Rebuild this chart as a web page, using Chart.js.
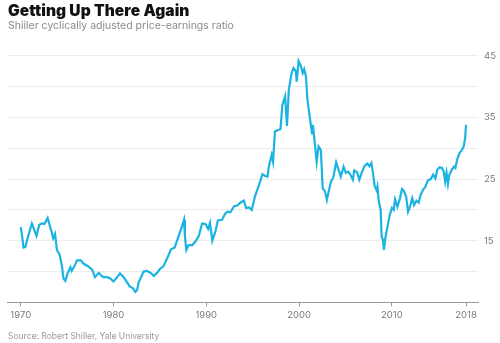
<!DOCTYPE html>
<html>
<head>
<meta charset="utf-8">
<script src="https://cdn.jsdelivr.net/npm/chart.js@4"></script>
<style>
  html, body { margin: 0; padding: 0; background: #fff; }
  #wrap { position: relative; width: 500px; height: 343px; overflow: hidden; }
  #c { position: absolute; left: 0; top: 0; }
  .t { position: absolute; left: 8px; white-space: nowrap; font-family: Inter, "Noto Sans", sans-serif; }
  #title { top: 1px; font-size: 15.5px; font-weight: 900; color: #111; letter-spacing: 0.1px; }
  #sub { top: 19px; font-size: 10.5px; color: #8a8a8a; }
  #src { top: 331px; font-size: 8.5px; color: #9a9a9a; }
</style>
</head>
<body>
<div id="wrap">
  <canvas id="c" width="500" height="343"></canvas>
  <div class="t" id="title">Getting Up There Again</div>
  <div class="t" id="sub">Shiiler cyclically adjusted price-earnings ratio</div>
  <div class="t" id="src">Source: Robert Shiller, Yale University</div>
</div>
<script>
const years = [1970.0,1970.1,1970.3,1970.5,1970.7,1971.2,1971.4,1971.7,1972.0,1972.3,1972.55,1972.9,1973.05,1973.35,1973.5,1973.7,1973.9,1974.2,1974.45,1974.6,1974.8,1975.05,1975.35,1975.5,1975.9,1976.05,1976.5,1976.75,1977.2,1977.7,1978.0,1978.4,1978.65,1978.9,1979.3,1979.65,1980.0,1980.3,1980.7,1981.1,1981.45,1981.75,1982.1,1982.35,1982.55,1982.7,1983.25,1983.6,1984.0,1984.35,1984.7,1985.05,1985.4,1985.8,1986.2,1986.6,1986.85,1987.15,1987.4,1987.6,1987.7,1987.85,1988.1,1988.5,1988.85,1989.2,1989.55,1989.9,1990.2,1990.4,1990.65,1991.0,1991.25,1991.7,1992.05,1992.3,1992.6,1993.0,1993.35,1993.7,1994.05,1994.3,1994.6,1994.9,1995.25,1995.7,1996.05,1996.35,1996.6,1996.75,1997.05,1997.2,1997.4,1997.8,1998.0,1998.2,1998.5,1998.7,1998.9,1999.2,1999.4,1999.65,1999.75,1999.95,2000.2,2000.4,2000.55,2000.75,2000.9,2001.15,2001.4,2001.5,2001.7,2001.9,2002.1,2002.35,2002.55,2002.8,2003.0,2003.2,2003.45,2003.7,2004.0,2004.2,2004.5,2004.8,2005.05,2005.3,2005.5,2005.8,2005.95,2006.25,2006.5,2006.75,2007.05,2007.35,2007.6,2007.8,2007.95,2008.15,2008.35,2008.45,2008.6,2008.8,2008.9,2009.05,2009.15,2009.3,2009.5,2009.75,2010.0,2010.2,2010.35,2010.6,2010.85,2011.1,2011.3,2011.55,2011.75,2011.95,2012.2,2012.4,2012.65,2012.9,2013.1,2013.35,2013.6,2013.9,2014.2,2014.45,2014.7,2014.9,2015.15,2015.4,2015.6,2015.75,2015.9,2016.05,2016.2,2016.45,2016.7,2016.85,2017.05,2017.3,2017.55,2017.75,2017.9,2018.0];
const cape = [17.2,16.3,13.9,14.0,15.2,17.8,17.0,15.8,17.6,17.8,17.7,18.7,17.9,16.3,15.4,16.1,13.5,12.7,10.8,8.9,8.5,9.7,10.7,10.1,11.2,11.8,11.8,11.3,10.9,10.3,9.1,9.8,9.4,9.1,9.1,8.9,8.4,8.9,9.7,9.1,8.3,7.6,7.3,6.7,7.0,8.2,10.0,10.1,9.8,9.3,9.8,10.5,10.9,12.2,13.6,13.9,15.0,16.3,17.4,18.4,15.7,13.5,14.3,14.3,14.9,15.8,17.8,17.7,16.9,17.9,15.0,16.6,18.3,18.4,19.4,19.7,19.6,20.6,20.7,21.2,21.5,20.3,20.4,20.0,22.2,24.1,25.8,25.5,25.4,27.1,28.9,27.8,32.7,33.0,33.1,37.0,38.4,33.6,39.5,42.2,43.0,42.5,40.8,44.1,43.3,42.2,42.8,41.6,37.9,35.1,32.4,33.8,30.8,27.8,30.3,29.7,23.5,23.0,21.6,23.0,24.6,25.3,27.7,26.8,25.4,27.0,26.0,26.2,25.8,24.9,26.4,26.1,24.9,26.0,27.1,27.5,27.1,27.6,26.2,23.9,23.2,23.8,21.3,20.0,15.7,15.1,13.5,15.4,17.0,19.0,20.3,20.0,21.7,20.5,21.7,23.4,23.1,22.1,19.7,20.5,21.9,20.8,21.5,21.2,22.4,23.2,23.7,24.8,25.0,25.7,25.1,26.5,26.9,26.8,26.2,24.6,26.0,24.2,25.7,26.5,27.0,26.8,28.2,29.2,29.7,30.3,31.6,33.8];
const xTicks = [1970, 1980, 1990, 2000, 2010, 2018];
const yLabels = [15, 25, 35, 45];

const points = years.map((x, i) => ({ x: x, y: cape[i] }));

new Chart(document.getElementById('c'), {
  type: 'line',
  data: {
    datasets: [{
      data: points,
      borderColor: '#1ab3e2',
      borderWidth: 2.2,
      pointRadius: 0,
      tension: 0,
      fill: false
    }]
  },
  options: {
    responsive: false,
    animation: false,
    events: [],
    layout: { padding: { left: 7, right: 0, top: 55.7, bottom: 0 } },
    plugins: { legend: { display: false }, tooltip: { enabled: false } },
    scales: {
      x: {
        type: 'linear',
        min: 1968.52,
        max: 2019.29,
        afterFit: (s) => { s.height = 40.6; },
        afterBuildTicks: (s) => { s.ticks = xTicks.map(v => ({ value: v })); },
        grid: { display: true, drawOnChartArea: false, drawTicks: true, tickLength: 4, color: '#9a9a9a', lineWidth: 1 },
        border: { display: true, color: '#9a9a9a', width: 1 },
        ticks: {
          color: '#7a7a7a',
          font: { family: 'Inter, "Noto Sans", sans-serif', size: 9.5 },
          padding: 3,
          maxRotation: 0,
          autoSkip: false,
          callback: (v) => String(v)
        }
      },
      y: {
        position: 'right',
        min: 5,
        max: 45,
        afterFit: (s) => { s.width = 22; },
        grid: {
          drawTicks: false,
          color: (ctx) => (ctx.tick && ctx.tick.value === 5) ? 'rgba(0,0,0,0)' : '#ececec',
          lineWidth: 1
        },
        border: { display: false },
        ticks: {
          stepSize: 5,
          color: '#7a7a7a',
          font: { family: 'Inter, "Noto Sans", sans-serif', size: 9.5 },
          padding: 6,
          callback: (v) => yLabels.includes(v) ? String(v) : ''
        }
      }
    }
  }
});
</script>
</body>
</html>
